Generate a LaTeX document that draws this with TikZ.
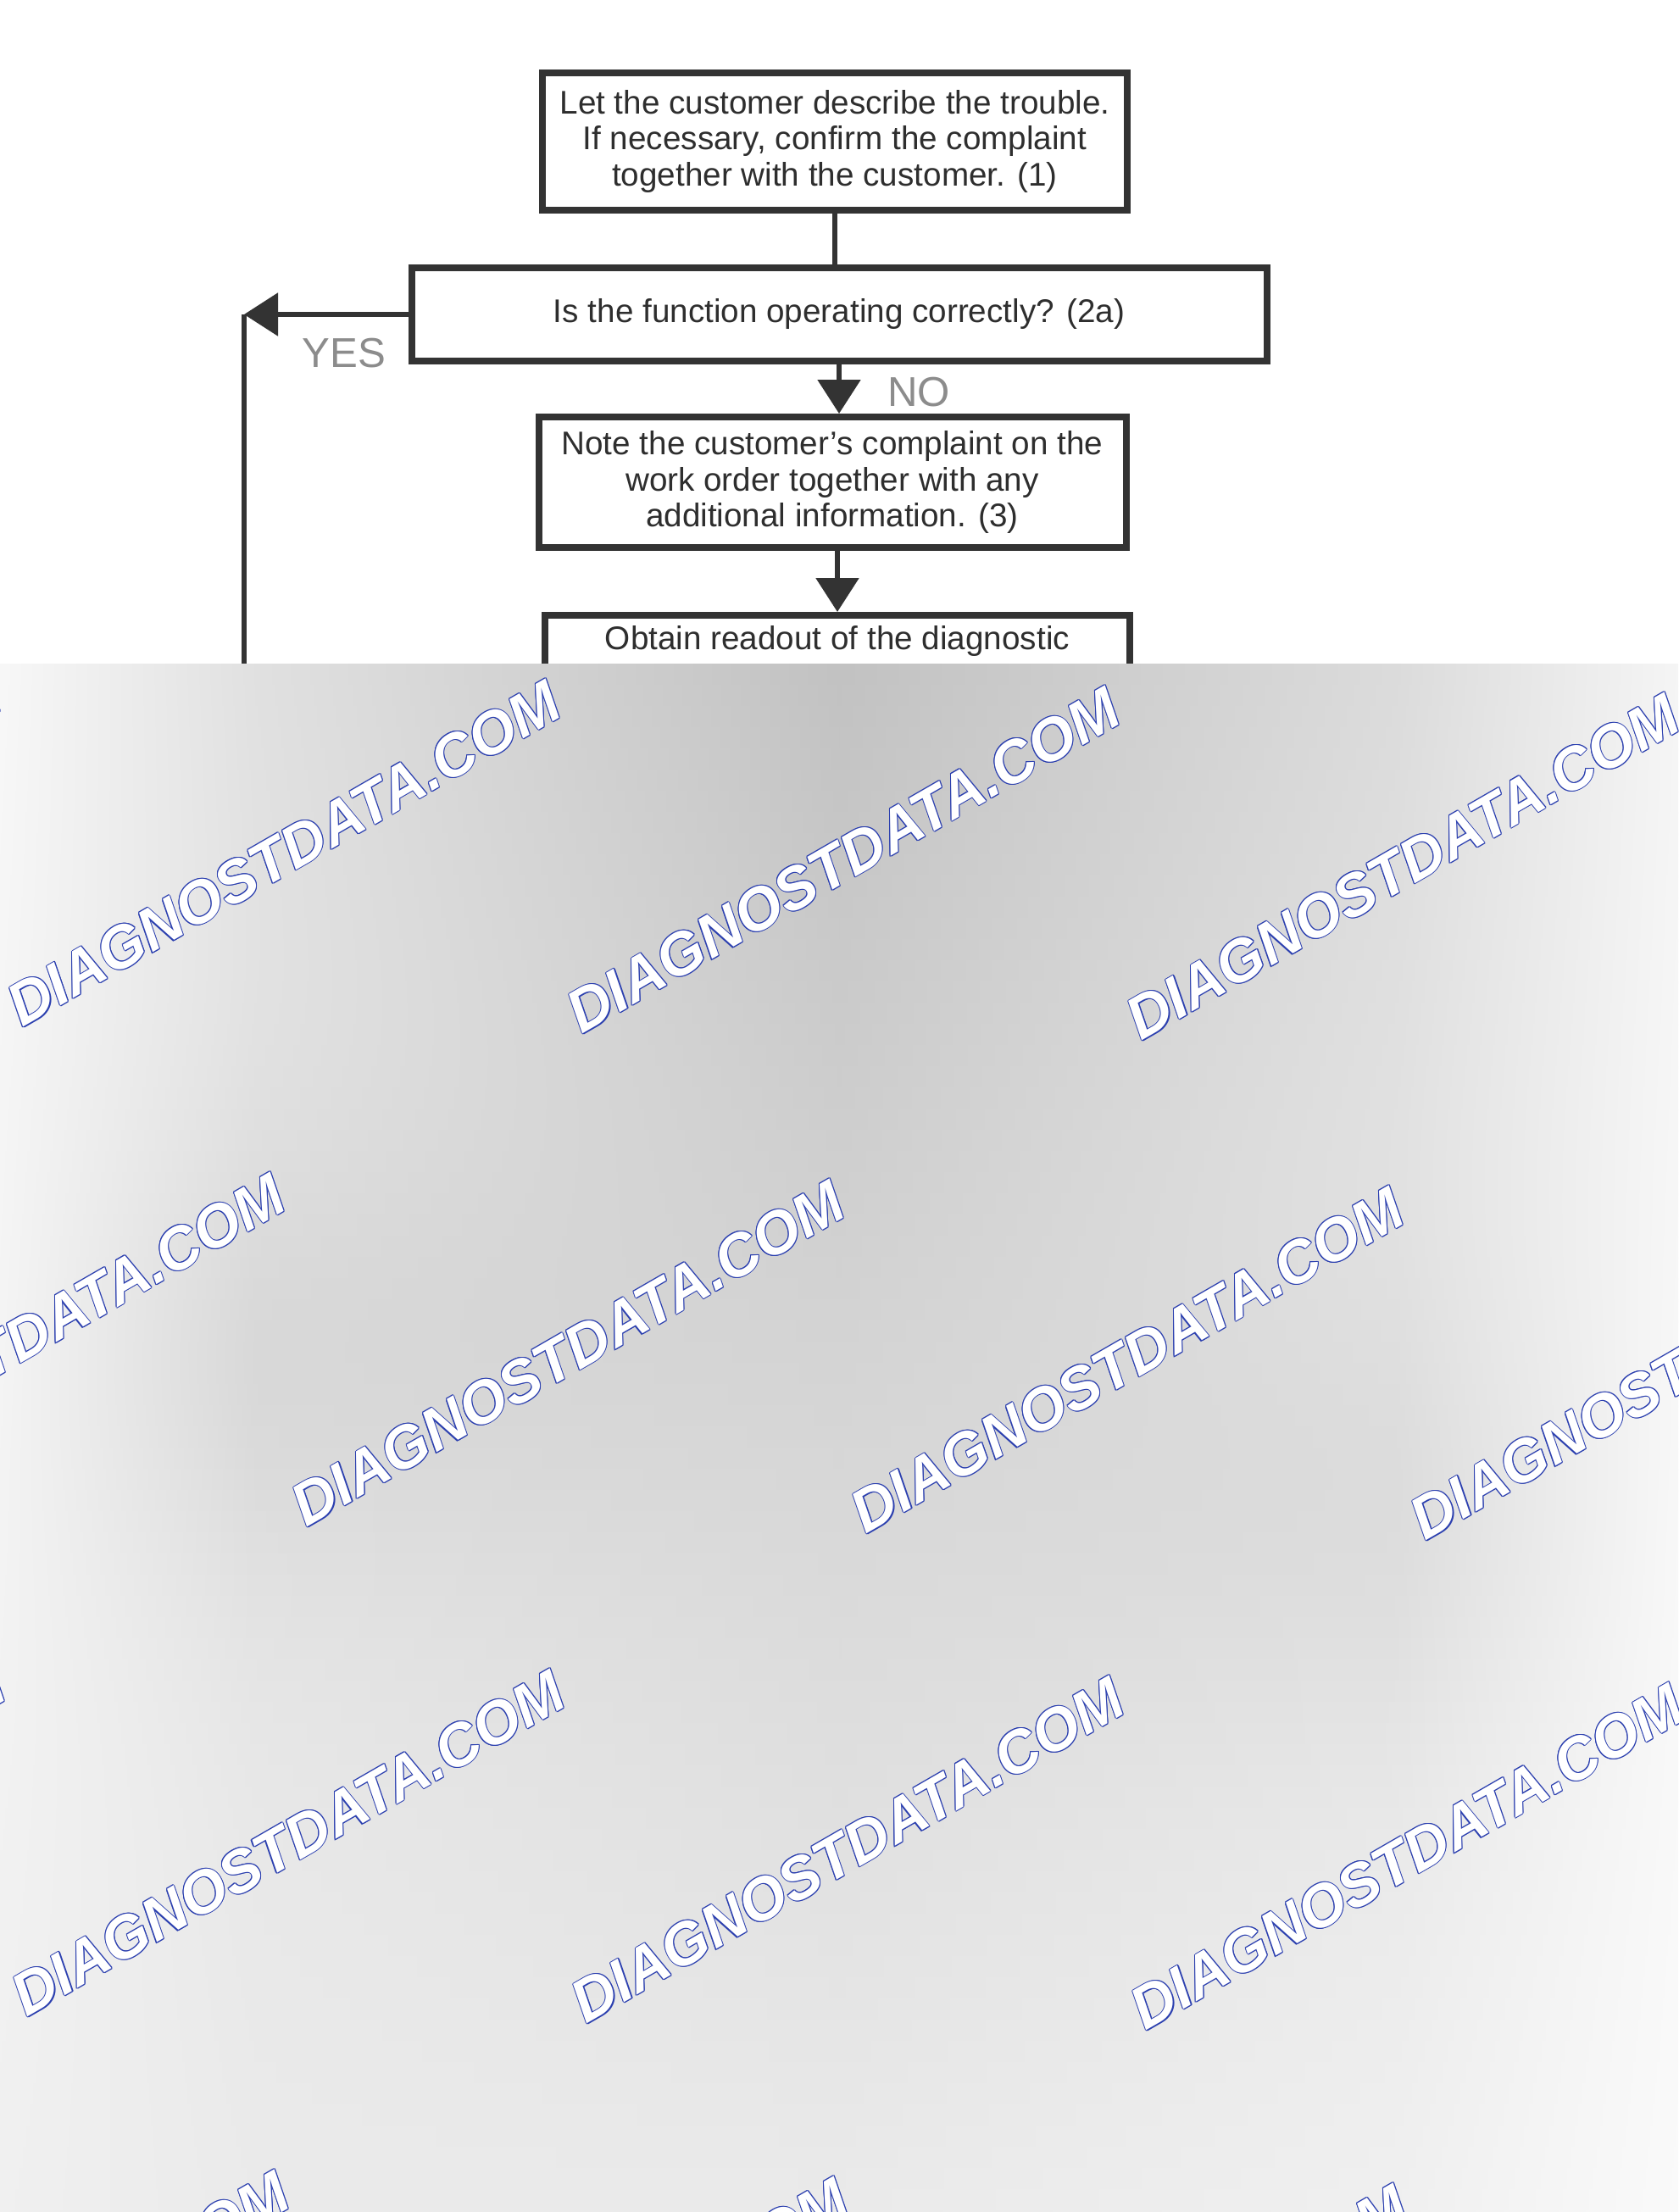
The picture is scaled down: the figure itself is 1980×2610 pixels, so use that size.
\documentclass[tikz,border=0pt]{standalone}
\usepackage{fontspec}
\setmainfont{Liberation Sans}
\usetikzlibrary{arrows.meta}
\definecolor{ln}{HTML}{333333}
\definecolor{txt}{HTML}{2E2E2E}
\definecolor{wmblue}{HTML}{2B3FAF}
\tikzset{
  box/.style={draw=ln, line width=0.8mm, inner sep=0pt, align=center,
    text=txt, font=\fontsize{11}{12}\selectfont},
  conn/.style={draw=ln, line width=0.55mm},
  tip/.style={-{Triangle[length=4mm,width=5mm]}},
  lab/.style={text=black!45, font=\fontsize{14}{16}\selectfont, inner sep=0pt},
  wm/.style={rotate=30, inner sep=0pt, font=\fontsize{20}{24}\selectfont\bfseries\itshape}
}
\newcommand\wmark[3]{%
  \foreach \dx/\dy [count=\k] in {1/0,-1/0,0/1,0/-1,0.7/0.7,-0.7/0.7,0.7/-0.7,-0.7/-0.7}
    \node[wm, text=wmblue, xshift={\dx*0.32pt}, yshift={\dy*0.32pt}] (wm#3o\k) at (#1,#2) {DIAGNOSTDATA.COM};
  \node[wm, text=white] (wm#3) at (#1,#2) {DIAGNOSTDATA.COM};
}
\begin{document}
\begin{tikzpicture}[x=0.1mm,y=-0.1mm]
\useasboundingbox (0,0) rectangle (1980,2610);
\fill[white] (0,0) rectangle (1980,2610);

% flowchart
\node[box, minimum width=69mm, minimum height=16.2mm] (b1) at (985,167)
  {Let the customer describe the trouble.\\If necessary, confirm the complaint\\together with the customer. (1)};
\node[box, minimum width=100.9mm, minimum height=11mm] (b2) at (990,371)
  {Is the function operating correctly? (2a)};
\node[box, minimum width=69.3mm, minimum height=15.4mm] (b3) at (982,569)
  {Note the customer's complaint on the\\work order together with any\\additional information. (3)};
\node[box, anchor=north, minimum width=69mm, inner ysep=1.2mm, text depth=14mm] (b4) at (988,722)
  {Obtain readout of the diagnostic};

\coordinate (yc) at (288,371);
\coordinate (ybot) at (288,800);

\draw[conn] (b1.south) -- (b1.south |- b2.north);
\draw[conn, tip] (b2.south) -- (b2.south |- b3.north);
\draw[conn, tip] (b4.north |- b3.south) -- (b4.north);
\draw[conn, tip] (b2.west) -- (yc);
\draw[conn] (yc) -- (ybot);

\node[lab] (yes) at (406,417) {YES};
\node[lab] (no) at (1084,463) {NO};

% blurred lower part
\begin{scope}
\clip (0,783) rectangle (1980,2610);
\foreach \i in {0,...,73}{
  \pgfmathsetmacro\ya{783+25*\i}
  \pgfmathsetmacro\yb{\ya+27}
  \pgfmathsetmacro\t{min(1,(\ya-783)/1827)}
  \pgfmathsetmacro\kA{3+3*\t}
  \pgfmathsetmacro\kB{12-4*\t+5*exp(-((\t-0.45)/0.15)^2)}
  \pgfmathsetmacro\kC{24-16*\t}
  \pgfmathsetmacro\kD{14-8*\t+4*exp(-((\t-0.55)/0.15)^2)}
  \pgfmathsetmacro\kE{4-2*\t}
  \colorlet{cA}{black!\kA!white}
  \colorlet{cB}{black!\kB!white}
  \colorlet{cC}{black!\kC!white}
  \colorlet{cD}{black!\kD!white}
  \colorlet{cE}{black!\kE!white}
  \shade[left color=cA, right color=cB] (0,\ya) rectangle (301,\yb);
  \shade[left color=cB, right color=cC] (300,\ya) rectangle (991,\yb);
  \shade[left color=cC, right color=cD] (990,\ya) rectangle (1651,\yb);
  \shade[left color=cD, right color=cE] (1650,\ya) rectangle (1980,\yb);
}
% watermarks
\wmark{-325}{999}{a1}
\wmark{335}{1007}{a2}
\wmark{995}{1015}{a3}
\wmark{1655}{1023}{a4}
\wmark{2315}{1031}{a5}
\wmark{10}{1589}{b1}
\wmark{670}{1597}{b2}
\wmark{1330}{1605}{b3}
\wmark{1990}{1613}{b4}
\wmark{-320}{2167}{c1}
\wmark{340}{2175}{c2}
\wmark{1000}{2183}{c3}
\wmark{1660}{2191}{c4}
\wmark{2320}{2199}{c5}
\wmark{15}{2766}{d1}
\wmark{675}{2774}{d2}
\wmark{1335}{2782}{d3}
\wmark{1995}{2790}{d4}
\end{scope}
\end{tikzpicture}
\end{document}
